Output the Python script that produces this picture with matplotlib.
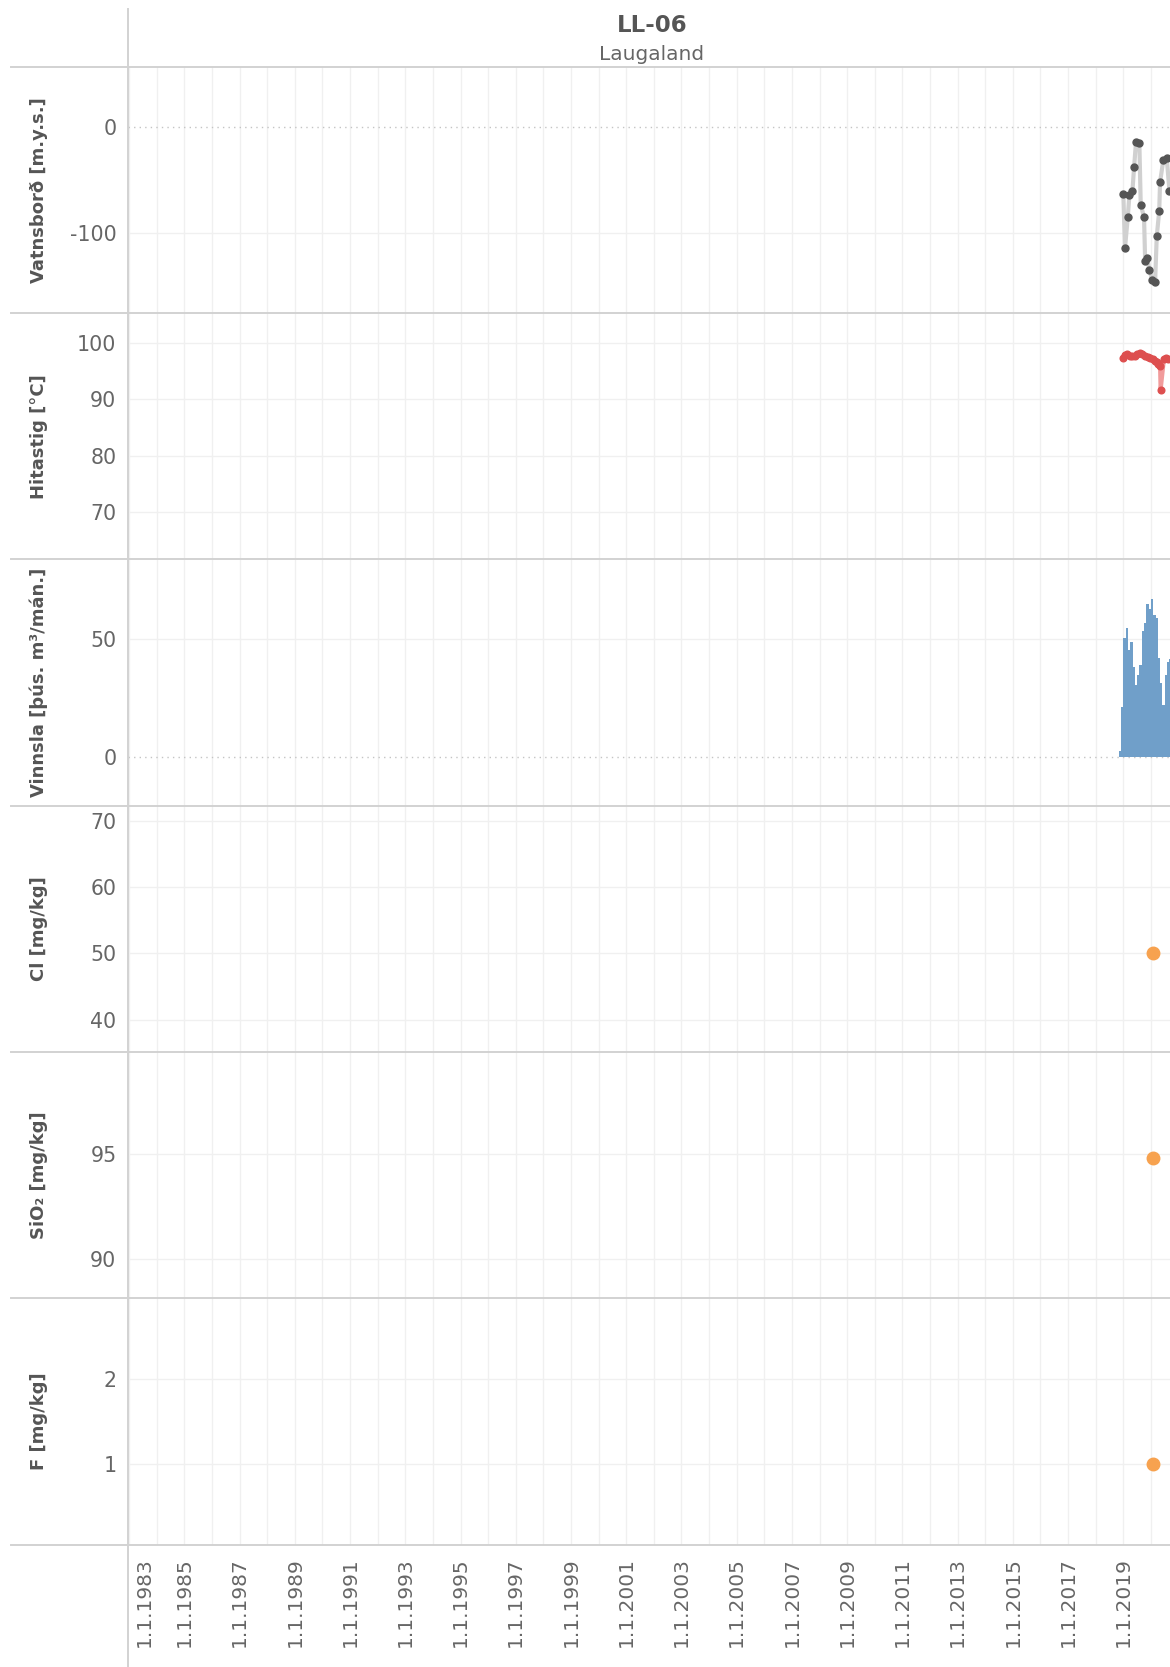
import numpy as np
import matplotlib.pyplot as plt
from matplotlib.lines import Line2D
from matplotlib.transforms import ScaledTranslation

# figure size in pixels
W, H = 1170, 1667

# water level [m.y.s.]
level_years = [2019.00, 2019.06, 2019.16, 2019.22, 2019.33, 2019.39, 2019.46,
               2019.58, 2019.63, 2019.75, 2019.79, 2019.87, 2019.94, 2020.05,
               2020.15, 2020.21, 2020.30, 2020.33, 2020.45, 2020.57, 2020.67]
level_values = [-63, -114, -85, -64, -60, -38, -14,
                -15, -73, -85, -126, -123, -134, -144,
                -146, -103, -79, -52, -31, -29, -60]

# temperature [C]
temp_years = [2018.98, 2019.06, 2019.15, 2019.24, 2019.33, 2019.42, 2019.51,
              2019.60, 2019.69, 2019.79, 2019.88, 2019.97, 2020.06, 2020.15,
              2020.21, 2020.27, 2020.33, 2020.35, 2020.47, 2020.55, 2020.63]
temp_values = [97.4, 97.9, 98.0, 97.8, 97.7, 97.8, 98.0,
               98.3, 98.0, 97.8, 97.6, 97.4, 97.1, 96.9,
               96.6, 96.3, 96.0, 91.7, 97.2, 97.3, 97.2]

# monthly production [thous. m3/month]
prod_months = ['2018-11', '2018-12', '2019-01', '2019-02', '2019-03', '2019-04',
               '2019-05', '2019-06', '2019-07', '2019-08', '2019-09', '2019-10',
               '2019-11', '2019-12', '2020-01', '2020-02', '2020-03', '2020-04',
               '2020-05', '2020-06', '2020-07', '2020-08', '2020-09']
prod_values = [2.6, 21.3, 50.3, 54.5, 45.0, 48.4, 38.2, 30.5, 34.7, 38.9, 53.0, 56.6,
               64.4, 62.5, 66.8, 60.1, 58.7, 41.7, 31.2, 22.0, 34.7, 39.9, 41.4]

# chemistry samples
chem_years = [2020.08]
cl_values = [50.0]
sio2_values = [94.8]
f_values = [1.0]

ylabels = ['Vatnsborð [m.y.s.]', 'Hitastig [°C]', 'Vinnsla [þús. m³/mán.]',
           'Cl [mg/kg]', 'SiO₂ [mg/kg]', 'F [mg/kg]']
yticks = [[-100, 0], [70, 80, 90, 100], [0, 50], [40, 50, 60, 70], [90, 95], [1, 2]]
ylims = [(-175, 56), (61.6, 105.3), (-20.6, 83.4), (35.1, 72.3), (88.1, 99.9), (0.04, 2.96)]
xlim = (1982.94, 2020.69)
label_years = list(range(1983, 2020, 2))


def decyear(s):
    y, m = s.split('-')
    return int(y) + (int(m) - 1) / 12.


def main():
    plt.rcParams['font.family'] = 'DejaVu Sans'
    plt.rcParams['axes.unicode_minus'] = False
    fig = plt.figure(figsize=(W / 100., H / 100.), dpi=100)

    edges = [67, 313.25, 559.5, 805.75, 1052, 1298.25, 1544.5]
    left = 127.5
    axes = []
    for i in range(6):
        ax = fig.add_axes([left / W, 1 - edges[i + 1] / H, 1 - left / W,
                           (edges[i + 1] - edges[i]) / H])
        ax.set_xlim(*xlim)
        ax.set_ylim(*ylims[i])
        ax.set_yticks(yticks[i])
        ax.set_xticks(label_years)
        ax.set_xticks(range(1983, 2021), minor=True)
        for sp in ax.spines.values():
            sp.set_visible(False)
        ax.tick_params(axis='both', which='both', length=0, colors='#666666',
                       labelsize=14.8)
        ax.tick_params(axis='y', pad=8)
        ax.grid(True, which='both', axis='x', color='#f0f0f0', lw=1.0)
        ax.grid(True, which='major', axis='y', color='#f0f0f0', lw=1.0)
        ax.set_axisbelow(True)
        # dotted zero lines
        for tick, gl in zip(ax.get_yticks(), ax.get_ygridlines()):
            if tick == 0:
                gl.set_linestyle((0, (1, 3)))
                gl.set_color('#c4c4c4')
        ax.set_ylabel(ylabels[i], fontsize=13, fontweight='bold', color='#555555')
        ax.yaxis.set_label_coords((48 - left) / (W - left), 0.5)
        if i < 5:
            ax.tick_params(axis='x', labelbottom=False)
        axes.append(ax)

    # water level
    axes[0].plot(level_years, level_values, color='#d0d0d0', lw=3, zorder=2)
    axes[0].plot(level_years, level_values, 'o', color='#555555', ms=5, zorder=3)

    # temperature
    axes[1].plot(temp_years, temp_values, color='#f19b9b', lw=3, zorder=2)
    axes[1].plot(temp_years, temp_values, 'o', color='#dd4f4f', ms=4.8, zorder=3)

    # production
    axes[2].bar([decyear(m) for m in prod_months], prod_values, width=1 / 12.,
                align='edge', color='#709fc9', lw=0, zorder=2)

    # chemistry
    for ax, vals in zip(axes[3:], [cl_values, sio2_values, f_values]):
        ax.plot(chem_years, vals, 'o', color='#f7a24f', ms=9, zorder=3)

    # x tick labels
    bottom = axes[-1]
    bottom.set_xticklabels(['1.1.%d' % y for y in label_years], rotation=90,
                           va='top', ha='center')
    bottom.tick_params(axis='x', pad=9, labelsize=14.5)
    first = bottom.get_xticklabels()[0]
    first.set_transform(first.get_transform() +
                        ScaledTranslation(0.15, 0, fig.dpi_scale_trans))

    # separators
    sep = '#d2d2d2'
    for y in edges:
        fig.add_artist(Line2D([10.6 / W, 1], [1 - y / H, 1 - y / H], color=sep, lw=1.4))
    fig.add_artist(Line2D([left / W, left / W], [1 - 9 / H, 0], color=sep, lw=1.4))

    # titles
    cx = 652 / W
    fig.text(cx, 1 - 26 / H, 'LL-06', ha='center', va='center', fontsize=16.5,
             fontweight='bold', color='#555555')
    fig.text(cx, 1 - 54 / H, 'Laugaland', ha='center', va='center', fontsize=14.5,
             color='#666666')

    fig.savefig('out.png', dpi=100)


if __name__ == '__main__':
    main()
